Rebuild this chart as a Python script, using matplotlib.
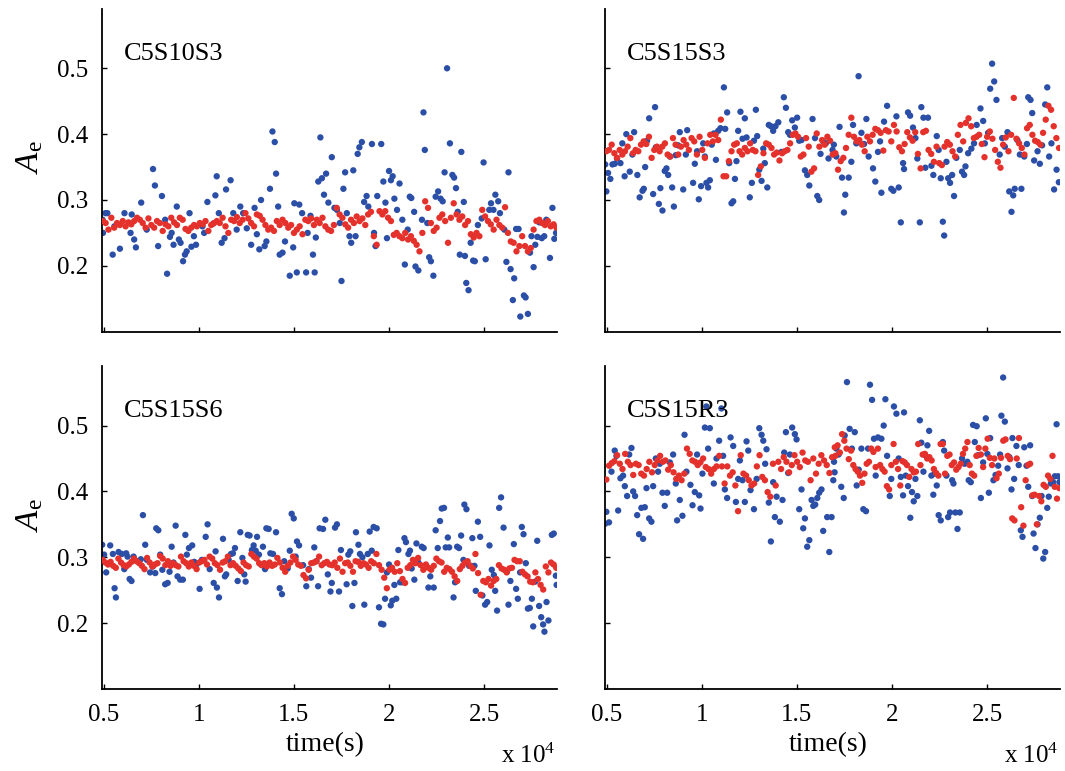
import numpy as np
import matplotlib.pyplot as plt

# ---------------- C5S10S3 (top left) ----------------
c5s10s3_blue_t = [
    4940, 4960, 5090, 5190, 5470, 5560, 5850, 6090, 6410, 6470,
    6600, 6690, 6970, 7260, 7590, 7690, 7860, 8060, 8230, 8330,
    8480, 8570, 8670, 8840, 8950, 9040, 9170, 9270, 9360, 9510,
    9610, 9740, 9850, 10190, 10280, 10450, 10750, 10870, 10940, 11050,
    11200, 11350, 11430, 11670, 11810, 11990, 12180, 12330, 12520, 12750,
    12930, 13050, 13180, 13270, 13460, 13550, 13740, 13870, 13990, 14060,
    14170, 14250, 14400, 14530, 14780, 14960, 15020, 15150, 15280, 15430,
    15640, 15720, 15870, 16000, 16090, 16150, 16280, 16390, 16470, 16580,
    16690, 16810, 16990, 17130, 17260, 17410, 17500, 17600, 17690, 17780,
    17920, 18010, 18120, 18240, 18350, 18440, 18570, 18690, 18820, 18910,
    19100, 19210, 19290, 19380, 19590, 19700, 19810, 19890, 20000, 20100,
    20190, 20280, 20420, 20550, 20700, 20830, 20980, 21090, 21170, 21320,
    21390, 21540, 21730, 21810, 21880, 22010, 22110, 22200, 22330, 22450,
    22580, 22710, 22820, 22920, 23050, 23200, 23330, 23420, 23520, 23610,
    23720, 23800, 23930, 23990, 24060, 24180, 24290, 24420, 24510, 24670,
    24870, 24970, 25080, 25270, 25360, 25490, 25590, 25740, 25830, 26060,
    26170, 26280, 26390, 26510, 26580, 26680, 26810, 26900, 27090, 27180,
    27300, 27410, 27490, 27600, 27690, 27800, 27900, 28030, 28160, 28270,
    28460, 28590, 28690, 28780,
]
c5s10s3_blue = [
    0.270, 0.250, 0.280, 0.280, 0.217, 0.260, 0.226, 0.280, 0.250, 0.278,
    0.240, 0.228, 0.296, 0.255, 0.347, 0.322, 0.230, 0.306, 0.270, 0.188,
    0.244, 0.250, 0.232, 0.290, 0.240, 0.235, 0.207, 0.217, 0.222, 0.280,
    0.229, 0.245, 0.232, 0.260, 0.250, 0.297, 0.264, 0.307, 0.336, 0.280,
    0.235, 0.242, 0.316, 0.330, 0.280, 0.255, 0.290, 0.280, 0.257, 0.232,
    0.288, 0.248, 0.225, 0.300, 0.230, 0.237, 0.317, 0.404, 0.388, 0.340,
    0.290, 0.217, 0.220, 0.237, 0.185, 0.228, 0.295, 0.190, 0.293, 0.280,
    0.190, 0.250, 0.276, 0.217, 0.190, 0.243, 0.328, 0.395, 0.333, 0.308,
    0.340, 0.296, 0.365, 0.288, 0.285, 0.265, 0.177, 0.317, 0.342, 0.280,
    0.245, 0.235, 0.345, 0.245, 0.370, 0.380, 0.388, 0.297, 0.306, 0.290,
    0.385, 0.250, 0.230, 0.306, 0.385, 0.328, 0.296, 0.242, 0.344, 0.330,
    0.336, 0.302, 0.285, 0.325, 0.270, 0.202, 0.255, 0.305, 0.303, 0.282,
    0.199, 0.193, 0.270, 0.433, 0.376, 0.265, 0.213, 0.207, 0.185, 0.305,
    0.313, 0.302, 0.298, 0.342, 0.500, 0.386, 0.338, 0.334, 0.318, 0.282,
    0.217, 0.373, 0.297, 0.215, 0.174, 0.163, 0.235, 0.208, 0.207, 0.262,
    0.272, 0.357, 0.210, 0.285, 0.295, 0.285, 0.308, 0.298, 0.280, 0.255,
    0.206, 0.342, 0.195, 0.148, 0.181, 0.256, 0.256, 0.123, 0.155, 0.152,
    0.127, 0.220, 0.245, 0.198, 0.232, 0.244, 0.266, 0.242, 0.245, 0.270,
    0.212, 0.288, 0.241, 0.250,
]
# red samples are evenly spaced in time
c5s10s3_red_span = [(4950, 28800)]
c5s10s3_red = [[
    0.268, 0.265, 0.255, 0.273, 0.258, 0.265, 0.262, 0.268, 0.260, 0.266,
    0.263, 0.268, 0.273, 0.270, 0.265, 0.258, 0.272, 0.262, 0.258, 0.268,
    0.265, 0.253, 0.263, 0.260, 0.273, 0.266, 0.262, 0.273, 0.270, 0.256,
    0.253, 0.258, 0.262, 0.260, 0.265, 0.263, 0.268, 0.253, 0.262, 0.265,
    0.268, 0.265, 0.273, 0.260, 0.250, 0.270, 0.268, 0.274, 0.265, 0.270,
    0.280, 0.272, 0.265, 0.260, 0.278, 0.276, 0.270, 0.262, 0.255, 0.258,
    0.253, 0.268, 0.262, 0.270, 0.265, 0.258, 0.262, 0.250, 0.255, 0.260,
    0.248, 0.270, 0.268, 0.272, 0.262, 0.270, 0.265, 0.273, 0.260, 0.255,
    0.253, 0.262, 0.288, 0.278, 0.273, 0.263, 0.258, 0.270, 0.265, 0.275,
    0.268, 0.272, 0.262, 0.278, 0.282, 0.245, 0.232, 0.283, 0.278, 0.283,
    0.273, 0.268, 0.247, 0.250, 0.245, 0.242, 0.250, 0.240, 0.245, 0.238,
    0.232, 0.222, 0.250, 0.298, 0.288, 0.265, 0.253, 0.258, 0.273, 0.278,
    0.268, 0.235, 0.273, 0.295, 0.278, 0.270, 0.275, 0.262, 0.268, 0.248,
    0.243, 0.250, 0.245, 0.285, 0.275, 0.268, 0.263, 0.255, 0.270, 0.262,
    0.258, 0.289, 0.250, 0.237, 0.235, 0.222, 0.230, 0.245, 0.230, 0.222,
    0.227, 0.255, 0.268, 0.270, 0.265, 0.262, 0.268, 0.260, 0.263, 0.258,
]]

# ---------------- C5S15S3 (top right) ----------------
c5s15s3_blue_t = [
    4920, 4980, 5070, 5190, 5300, 5420, 5540, 5720, 5820, 5940,
    6030, 6210, 6350, 6440, 6610, 6730, 6880, 6950, 7020, 7120,
    7230, 7440, 7540, 7580, 7740, 7820, 7930, 8050, 8140, 8230,
    8320, 8440, 8530, 8630, 8750, 8840, 9020, 9160, 9230, 9540,
    9630, 9750, 9840, 9960, 10070, 10160, 10240, 10330, 10420, 10520,
    10630, 10740, 10860, 10980, 11160, 11230, 11330, 11440, 11560, 11650,
    11740, 11820, 11910, 12030, 12140, 12260, 12350, 12520, 12630, 12740,
    12840, 12910, 13020, 13140, 13230, 13310, 13440, 13520, 13630, 13750,
    13870, 14020, 14190, 14310, 14420, 14540, 14630, 14750, 14890, 15010,
    15120, 15240, 15420, 15540, 15650, 15820, 15950, 16070, 16170, 16240,
    16380, 16520, 16660, 16870, 16940, 17070, 17240, 17370, 17470, 17540,
    17720, 17860, 17950, 18120, 18240, 18390, 18530, 18650, 18770, 19000,
    19120, 19260, 19370, 19440, 19580, 19740, 19960, 20070, 20230, 20350,
    20460, 20580, 20630, 20840, 20950, 21100, 21230, 21330, 21460, 21540,
    21650, 21750, 21890, 22070, 22170, 22350, 22450, 22560, 22670, 22740,
    22860, 22950, 23050, 23160, 23260, 23380, 23560, 23680, 23790, 23860,
    24000, 24170, 24310, 24450, 24650, 24790, 24880, 25050, 25160, 25260,
    25370, 25490, 25660, 25790, 25930, 26070, 26160, 26280, 26370, 26450,
    26590, 26720, 26800, 26950, 27090, 27160, 27280, 27370, 27470, 27650,
    27770, 27890, 28050, 28160, 28260, 28380, 28520, 28650, 28770,
]
c5s15s3_blue = [
    0.354, 0.313, 0.341, 0.332, 0.354, 0.355, 0.363, 0.356, 0.386, 0.336,
    0.400, 0.343, 0.369, 0.403, 0.338, 0.304, 0.314, 0.317, 0.350, 0.390,
    0.424, 0.309, 0.441, 0.380, 0.294, 0.318, 0.284, 0.344, 0.348, 0.338,
    0.366, 0.319, 0.290, 0.368, 0.383, 0.403, 0.316, 0.369, 0.406, 0.326,
    0.355, 0.374, 0.301, 0.321, 0.386, 0.366, 0.326, 0.319, 0.330, 0.384,
    0.401, 0.361, 0.405, 0.409, 0.471, 0.408, 0.433, 0.356, 0.295, 0.298,
    0.332, 0.359, 0.405, 0.434, 0.393, 0.424, 0.395, 0.304, 0.326, 0.390,
    0.437, 0.397, 0.346, 0.329, 0.378, 0.356, 0.319, 0.414, 0.412, 0.405,
    0.412, 0.418, 0.373, 0.456, 0.440, 0.403, 0.399, 0.421, 0.410, 0.425,
    0.390, 0.391, 0.345, 0.338, 0.322, 0.423, 0.394, 0.306, 0.300, 0.370,
    0.389, 0.386, 0.363, 0.376, 0.384, 0.366, 0.411, 0.334, 0.281, 0.308,
    0.334, 0.358, 0.414, 0.386, 0.488, 0.402, 0.385, 0.423, 0.366, 0.348,
    0.328, 0.373, 0.389, 0.311, 0.419, 0.443, 0.317, 0.314, 0.427, 0.319,
    0.266, 0.356, 0.347, 0.433, 0.428, 0.410, 0.394, 0.363, 0.266, 0.441,
    0.425, 0.349, 0.425, 0.352, 0.338, 0.397, 0.376, 0.333, 0.267, 0.246,
    0.358, 0.333, 0.326, 0.338, 0.306, 0.364, 0.376, 0.343, 0.338, 0.351,
    0.371, 0.378, 0.386, 0.414, 0.439, 0.420, 0.386, 0.402, 0.469, 0.507,
    0.480, 0.452, 0.369, 0.394, 0.381, 0.403, 0.313, 0.282, 0.307, 0.317,
    0.391, 0.369, 0.317, 0.366, 0.385, 0.456, 0.452, 0.432, 0.360, 0.374,
    0.355, 0.383, 0.445, 0.471, 0.366, 0.386, 0.316, 0.346, 0.327,
]
c5s15s3_red_span = [(4980, 28780)]
c5s15s3_red = [[
    0.374, 0.376, 0.384, 0.371, 0.364, 0.376, 0.369, 0.374, 0.381, 0.394,
    0.371, 0.376, 0.374, 0.384, 0.389, 0.385, 0.396, 0.364, 0.376, 0.381,
    0.374, 0.381, 0.386, 0.369, 0.366, 0.394, 0.384, 0.369, 0.381, 0.391,
    0.384, 0.376, 0.394, 0.389, 0.369, 0.396, 0.376, 0.364, 0.386, 0.399,
    0.389, 0.399, 0.391, 0.422, 0.336, 0.336, 0.359, 0.374, 0.384, 0.386,
    0.374, 0.369, 0.379, 0.374, 0.386, 0.376, 0.374, 0.338, 0.351, 0.371,
    0.386, 0.384, 0.379, 0.369, 0.372, 0.360, 0.371, 0.374, 0.376, 0.386,
    0.399, 0.401, 0.396, 0.366, 0.369, 0.394, 0.381, 0.343, 0.348, 0.401,
    0.381, 0.391, 0.384, 0.396, 0.390,
    0.369, 0.371, 0.346, 0.359, 0.364, 0.379, 0.399, 0.425, 0.396, 0.389,
    0.391, 0.384, 0.374, 0.396, 0.389, 0.399, 0.408, 0.406, 0.402, 0.375,
    0.406, 0.404, 0.389, 0.414, 0.404, 0.380, 0.374, 0.385, 0.403, 0.395,
    0.390, 0.403, 0.370, 0.348, 0.403, 0.405, 0.376, 0.370, 0.358, 0.381,
    0.356, 0.353, 0.381, 0.388, 0.384, 0.374, 0.366, 0.399, 0.414, 0.389,
    0.417, 0.424, 0.412, 0.394, 0.396, 0.399, 0.385, 0.365, 0.396, 0.404,
    0.393, 0.376, 0.358, 0.349, 0.384, 0.395, 0.374, 0.399, 0.455, 0.393,
    0.386, 0.379, 0.369, 0.409, 0.414, 0.399, 0.390, 0.388, 0.384, 0.402,
    0.422, 0.443, 0.437, 0.412, 0.394, 0.379,
]]

# ---------------- C5S15S6 (bottom left) ----------------
c5s15s6_blue_t = [
    4920, 5020, 5130, 5340, 5480, 5570, 5640, 5780, 5950, 6080,
    6180, 6250, 6360, 6460, 6570, 6740, 6950, 7060, 7180, 7270,
    7440, 7580, 7710, 7760, 7870, 7970, 8080, 8230, 8360, 8460,
    8570, 8670, 8780, 8880, 9020, 9160, 9290, 9370, 9480, 9650,
    9760, 9870, 10040, 10160, 10360, 10460, 10570, 10780, 10880, 10950,
    11060, 11270, 11370, 11440, 11570, 11690, 11790, 11900, 12040, 12180,
    12290, 12390, 12460, 12570, 12670, 12790, 12880, 12990, 13060, 13160,
    13270, 13370, 13480, 13550, 13670, 13760, 13900, 14060, 14250, 14370,
    14490, 14670, 14780, 14880, 14990, 15090, 15160, 15270, 15480, 15650,
    15780, 15900, 16070, 16180, 16270, 16350, 16530, 16650, 16780, 16920,
    16990, 17160, 17260, 17370, 17470, 17770, 17860, 17960, 18070, 18180,
    18260, 18390, 18470, 18600, 18700, 18880, 18980, 19090, 19190, 19350,
    19470, 19580, 19700, 19790, 19890, 20000, 20090, 20170, 20280, 20380,
    20490, 20580, 20700, 20810, 20890, 21020, 21100, 21190, 21330, 21440,
    21540, 21720, 21820, 22070, 22170, 22350, 22450, 22560, 22680, 22770,
    22890, 22980, 23090, 23160, 23390, 23470, 23580, 23680, 23790, 23910,
    23960, 24070, 24210, 24310, 24380, 24490, 24560, 24670, 24790, 24910,
    25050, 25160, 25280, 25400, 25510, 25580, 25680, 25790, 25890, 26020,
    26190, 26280, 26380, 26560, 26680, 26770, 26890, 26980, 27070, 27190,
    27300, 27400, 27510, 27580, 27680, 27790, 27890, 28000, 28100, 28170,
    28280, 28380, 28560, 28660, 28770, 28810,
]
c5s15s6_blue = [
    0.319, 0.304, 0.277, 0.318, 0.305, 0.253, 0.239, 0.308, 0.305, 0.282,
    0.306, 0.301, 0.267, 0.264, 0.301, 0.294, 0.297, 0.364, 0.319, 0.296,
    0.277, 0.286, 0.276, 0.344, 0.341, 0.304, 0.281, 0.259, 0.261, 0.278,
    0.316, 0.292, 0.348, 0.271, 0.266, 0.266, 0.334, 0.304, 0.314, 0.318,
    0.293, 0.289, 0.252, 0.296, 0.331, 0.350, 0.282, 0.261, 0.309, 0.254,
    0.239, 0.328, 0.271, 0.274, 0.296, 0.305, 0.306, 0.314, 0.264, 0.338,
    0.299, 0.274, 0.263, 0.334, 0.333, 0.311, 0.318, 0.310, 0.331, 0.304,
    0.289, 0.316, 0.282, 0.344, 0.343, 0.306, 0.305, 0.338, 0.253, 0.244,
    0.294, 0.283, 0.310, 0.366, 0.359, 0.301, 0.324, 0.318, 0.288, 0.256,
    0.282, 0.269, 0.315, 0.294, 0.256, 0.344, 0.343, 0.357, 0.274, 0.248,
    0.261, 0.345, 0.350, 0.248, 0.311, 0.259, 0.304, 0.309, 0.226, 0.261,
    0.338, 0.319, 0.305, 0.300, 0.228, 0.305, 0.339, 0.310, 0.346, 0.344,
    0.224, 0.199, 0.198, 0.237, 0.277, 0.289, 0.227, 0.234, 0.258, 0.237,
    0.311, 0.262, 0.262, 0.329, 0.323, 0.305, 0.310, 0.283, 0.266, 0.321,
    0.292, 0.316, 0.314, 0.254, 0.271, 0.254, 0.341, 0.314, 0.355, 0.374,
    0.375, 0.315, 0.330, 0.315, 0.239, 0.262, 0.316, 0.314, 0.333, 0.296,
    0.380, 0.373, 0.287, 0.287, 0.329, 0.287, 0.249, 0.354, 0.331, 0.242,
    0.228, 0.232, 0.318, 0.281, 0.273, 0.249, 0.219, 0.375, 0.391, 0.345,
    0.278, 0.228, 0.264, 0.320, 0.252, 0.237, 0.277, 0.346, 0.335, 0.291,
    0.222, 0.223, 0.237, 0.195, 0.263, 0.325, 0.226, 0.209, 0.198, 0.187,
    0.232, 0.204, 0.334, 0.336, 0.272, 0.258,
]
c5s15s6_red_span = [(4950, 28790)]
c5s15s6_red = [[
    0.296, 0.292, 0.289, 0.293, 0.287, 0.284, 0.298, 0.292, 0.288, 0.286,
    0.289, 0.293, 0.298, 0.294, 0.291, 0.287, 0.282, 0.299, 0.292, 0.286,
    0.289, 0.291, 0.302, 0.298, 0.288, 0.294, 0.287, 0.291, 0.288, 0.286,
    0.301, 0.294, 0.291, 0.286, 0.292, 0.287, 0.282, 0.292, 0.294, 0.296,
    0.289, 0.301, 0.298, 0.291, 0.288, 0.281, 0.292, 0.294, 0.301, 0.288,
    0.291, 0.287, 0.283, 0.279, 0.292, 0.288, 0.286, 0.305, 0.301, 0.298,
    0.291, 0.288, 0.291, 0.286, 0.292, 0.287, 0.289, 0.299, 0.292, 0.284,
    0.278, 0.287, 0.292, 0.301, 0.296, 0.289, 0.287, 0.273, 0.268, 0.281,
    0.291, 0.292, 0.294, 0.301, 0.288, 0.291, 0.293, 0.289,
    0.288, 0.292, 0.284, 0.298, 0.278, 0.291, 0.292, 0.287, 0.278, 0.294,
    0.293, 0.287, 0.291, 0.289, 0.284, 0.294, 0.291, 0.305, 0.288, 0.281,
    0.269, 0.253, 0.281, 0.284, 0.278, 0.291, 0.279, 0.267, 0.261, 0.284,
    0.288, 0.296, 0.291, 0.299, 0.288, 0.281, 0.289, 0.284, 0.281, 0.287,
    0.298, 0.294, 0.292, 0.278, 0.284, 0.282, 0.278, 0.271, 0.264, 0.282,
    0.287, 0.292, 0.294, 0.287, 0.283, 0.305, 0.276, 0.243, 0.264, 0.262,
    0.267, 0.257, 0.264, 0.267, 0.288, 0.283, 0.281, 0.277, 0.283, 0.284,
    0.296, 0.294, 0.294, 0.278, 0.274, 0.271, 0.263, 0.262, 0.277, 0.267,
    0.258, 0.251, 0.286, 0.277, 0.292, 0.289, 0.284,
]]

# ---------------- C5S15R3 (bottom right) ----------------
c5s15r3_blue_t = [
    4920, 4980, 5120, 5250, 5420, 5510, 5600, 5720, 5860, 5950,
    6070, 6180, 6300, 6390, 6490, 6600, 6700, 6820, 6910, 7000,
    7090, 7230, 7350, 7440, 7580, 7700, 7790, 7930, 8050, 8180,
    8320, 8490, 8630, 8700, 8840, 8980, 9090, 9190, 9400, 9510,
    9630, 9750, 9860, 9930, 10030, 10160, 10240, 10330, 10420, 10630,
    10770, 10910, 11030, 11120, 11210, 11330, 11510, 11650, 11790, 11910,
    12000, 12140, 12260, 12350, 12440, 12560, 12740, 12880, 13020, 13140,
    13230, 13330, 13400, 13520, 13630, 13750, 13840, 13930, 14100, 14240,
    14330, 14420, 14540, 14630, 14750, 14890, 14980, 15120, 15240, 15330,
    15420, 15540, 15650, 15770, 15860, 15960, 16070, 16170, 16290, 16380,
    16590, 16700, 16820, 16910, 16950, 16980, 17070, 17190, 17330, 17460,
    17510, 17630, 17770, 17890, 18040, 18140, 18250, 18390, 18490, 18630,
    18740, 18840, 18950, 19050, 19140, 19260, 19440, 19560, 19650, 19740,
    19880, 19960, 20100, 20230, 20350, 20460, 20580, 20630, 20720, 20840,
    20960, 21050, 21140, 21230, 21330, 21460, 21540, 21650, 21750, 21860,
    21950, 22070, 22170, 22240, 22350, 22450, 22560, 22670, 22740, 22860,
    22950, 23050, 23160, 23230, 23330, 23440, 23560, 23680, 23820, 23960,
    24030, 24140, 24260, 24350, 24450, 24520, 24670, 24790, 24930, 25010,
    25090, 25160, 25330, 25440, 25580, 25680, 25750, 25840, 25930, 26070,
    26170, 26280, 26330, 26420, 26540, 26660, 26770, 26860, 26950, 27070,
    27160, 27260, 27370, 27440, 27540, 27650, 27770, 27860, 27950, 28050,
    28160, 28240, 28350, 28470, 28560, 28650, 28730, 28800,
]
c5s15r3_blue = [
    0.351, 0.369, 0.353, 0.430, 0.462, 0.454, 0.371, 0.420, 0.424, 0.408,
    0.393, 0.456, 0.466, 0.400, 0.393, 0.364, 0.335, 0.375, 0.328, 0.376,
    0.405, 0.359, 0.354, 0.408, 0.450, 0.430, 0.442, 0.398, 0.378, 0.398,
    0.444, 0.456, 0.412, 0.356, 0.387, 0.363, 0.486, 0.430, 0.410, 0.379,
    0.399, 0.456, 0.394, 0.374, 0.427, 0.497, 0.529, 0.465, 0.496, 0.412,
    0.450, 0.477, 0.526, 0.454, 0.403, 0.390, 0.482, 0.469, 0.384, 0.419,
    0.447, 0.417, 0.384, 0.476, 0.462, 0.402, 0.373, 0.419, 0.496, 0.486,
    0.477, 0.442, 0.464, 0.383, 0.324, 0.414, 0.361, 0.392, 0.354, 0.387,
    0.459, 0.490, 0.428, 0.456, 0.497, 0.487, 0.479, 0.373, 0.403, 0.344,
    0.359, 0.316, 0.326, 0.387, 0.378, 0.380, 0.390, 0.398, 0.403, 0.340,
    0.361, 0.308, 0.361, 0.417, 0.445, 0.429, 0.465, 0.456, 0.407, 0.390,
    0.485, 0.566, 0.495, 0.465, 0.490, 0.409, 0.433, 0.465, 0.373, 0.370,
    0.465, 0.562, 0.539, 0.480, 0.424, 0.482, 0.480, 0.500, 0.540, 0.454,
    0.393, 0.419, 0.529, 0.518, 0.450, 0.422, 0.394, 0.520, 0.424, 0.408,
    0.360, 0.399, 0.385, 0.419, 0.393, 0.508, 0.474, 0.430, 0.455, 0.470,
    0.492, 0.424, 0.395, 0.427, 0.409, 0.364, 0.356, 0.475, 0.462, 0.424,
    0.361, 0.368, 0.417, 0.412, 0.368, 0.343, 0.368, 0.450, 0.442, 0.445,
    0.417, 0.414, 0.501, 0.475, 0.499, 0.455, 0.390, 0.444, 0.511, 0.457,
    0.398, 0.481, 0.417, 0.425, 0.439, 0.456, 0.515, 0.573, 0.506, 0.435,
    0.452, 0.403, 0.481, 0.419, 0.469, 0.440, 0.341, 0.331, 0.467, 0.439,
    0.407, 0.470, 0.393, 0.336, 0.314, 0.350, 0.360, 0.393, 0.298, 0.308,
    0.375, 0.392, 0.412, 0.414, 0.423, 0.502, 0.423, 0.414,
]
# two stretches read separately, each evenly sampled
c5s15r3_red_span = [(4980, 16990), (17020, 28790)]
c5s15r3_red = [[
    0.418, 0.439, 0.443, 0.446, 0.455, 0.442, 0.434, 0.457, 0.445, 0.440,
    0.425, 0.442, 0.440, 0.427, 0.424, 0.434, 0.445, 0.429, 0.440, 0.447,
    0.454, 0.445, 0.447, 0.433, 0.440, 0.429, 0.419, 0.424, 0.417, 0.427,
    0.465, 0.457, 0.447, 0.445, 0.440, 0.444, 0.450, 0.437, 0.434, 0.427,
    0.434, 0.438, 0.454, 0.438, 0.412, 0.438, 0.424, 0.429, 0.409, 0.370,
    0.455, 0.427, 0.424, 0.417, 0.409, 0.412, 0.438, 0.455, 0.422, 0.417,
    0.399, 0.392, 0.442, 0.409, 0.445, 0.434, 0.452, 0.445, 0.429, 0.440,
    0.455, 0.445, 0.437, 0.459, 0.447, 0.445, 0.417, 0.450, 0.427, 0.442,
    0.455, 0.447, 0.440, 0.428, 0.452, 0.467,
], [
    0.454, 0.470, 0.459, 0.487, 0.477, 0.465, 0.449, 0.462, 0.440, 0.434,
    0.430, 0.424, 0.413, 0.427, 0.442, 0.445, 0.465, 0.460, 0.437, 0.465,
    0.440, 0.434, 0.430, 0.408, 0.403, 0.440, 0.472, 0.445, 0.434, 0.409,
    0.446, 0.444, 0.440, 0.422, 0.434, 0.429, 0.430, 0.472, 0.440, 0.456,
    0.457, 0.450, 0.452, 0.447, 0.434, 0.428, 0.424, 0.472, 0.472, 0.427,
    0.454, 0.456, 0.440, 0.444, 0.433, 0.437, 0.442, 0.457, 0.465, 0.475,
    0.440, 0.427, 0.424, 0.454, 0.466, 0.456, 0.437, 0.465, 0.480, 0.451,
    0.440, 0.450, 0.420, 0.427, 0.451, 0.477, 0.479, 0.454, 0.449, 0.359,
    0.356, 0.450, 0.481, 0.376, 0.348, 0.417, 0.440, 0.442, 0.394, 0.395,
    0.350, 0.393, 0.385, 0.410, 0.407, 0.424, 0.419, 0.454, 0.407, 0.389,
    0.405,
]]

names = ["C5S10S3", "C5S15S3", "C5S15S6", "C5S15R3"]
xticks = [5000, 10000, 15000, 20000, 25000]
xticklabels = ["0.5", "1", "1.5", "2", "2.5"]
yticks = [0.2, 0.3, 0.4, 0.5]
yticklabels = ["0.2", "0.3", "0.4", "0.5"]

panels = [
    (c5s10s3_blue_t, c5s10s3_blue, c5s10s3_red_span, c5s10s3_red),
    (c5s15s3_blue_t, c5s15s3_blue, c5s15s3_red_span, c5s15s3_red),
    (c5s15s6_blue_t, c5s15s6_blue, c5s15s6_red_span, c5s15s6_red),
    (c5s15r3_blue_t, c5s15r3_blue, c5s15r3_red_span, c5s15r3_red),
]

blue = "#2b4ea6"
red = "#e4312b"

plt.rcParams["font.family"] = ["Liberation Serif", "DejaVu Serif"]
plt.rcParams["mathtext.fontset"] = "custom"
plt.rcParams["mathtext.rm"] = "Liberation Serif"
plt.rcParams["mathtext.it"] = "Liberation Serif:italic"

fig = plt.figure(figsize=(10.65, 7.71), dpi=100)

lefts = [0.0958, 0.5681]
bottoms = [0.5698, 0.1064]
w, h = 0.4272, 0.4185

for i, (bt, bv, spans, reds) in enumerate(panels):
    row, col = divmod(i, 2)
    ax = fig.add_axes([lefts[col], bottoms[row], w, h])

    ax.scatter(bt, bv, s=21, color=blue, edgecolors="none", zorder=2)
    for (t0, t1), vals in zip(spans, reds):
        rt = np.linspace(t0, t1, len(vals))
        ax.scatter(rt, vals, s=21, color=red, edgecolors="none", zorder=3)

    ax.set_xlim(4910, 28830)
    ax.set_ylim(0.1, 0.59)
    ax.spines["top"].set_visible(False)
    ax.spines["right"].set_visible(False)
    for sp in ("left", "bottom"):
        ax.spines[sp].set_linewidth(1.3)

    ax.set_xticks(xticks)
    ax.set_yticks(yticks)
    ax.tick_params(direction="in", length=3.5, width=1, labelsize=18)
    ax.tick_params(axis="x", pad=11)
    ax.tick_params(axis="y", pad=10)

    if row == 1:
        ax.set_xticklabels(xticklabels)
        ax.set_xlabel("time(s)", fontsize=20)
        ax.xaxis.set_label_coords(0.49, -0.135)
        ax.text(0.997, -0.229, r"x 10$^{4}$", transform=ax.transAxes,
                ha="right", va="baseline", fontsize=18)
    else:
        ax.set_xticklabels([])

    if col == 0:
        ax.set_yticklabels(yticklabels)
        ax.set_ylabel(r"$A_{\mathrm{e}}$", fontsize=24)
        ax.yaxis.set_label_coords(-0.125, 0.54)
    else:
        ax.set_yticklabels([])

    ax.text(0.047, 0.843, names[i], transform=ax.transAxes,
            fontsize=19, va="baseline")

fig.savefig("out.png", dpi=100)
